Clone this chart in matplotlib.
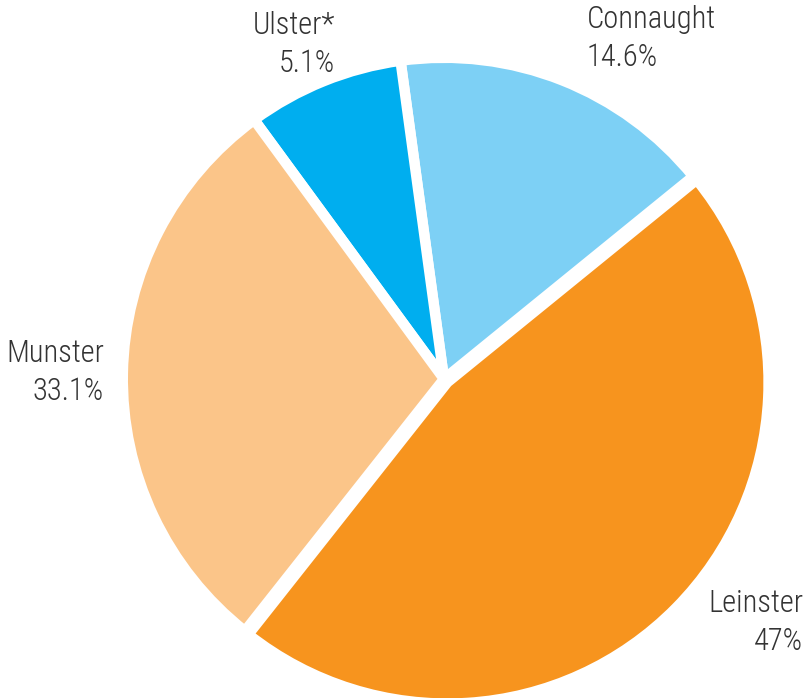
import matplotlib
matplotlib.use("Agg")
import matplotlib.pyplot as plt

regions = ["Connaught", "Ulster*", "Munster", "Leinster"]
pct_labels = ["14.6%", "5.1%", "33.1%", "47%"]
# slice sizes as drawn in the picture (share of the circle)
sizes = [16.3, 7.9, 29.3, 46.5]
colors = ["#7DD0F5", "#00AEEF", "#FBC589", "#F7941E"]
explode = [0, 0, 0, 0.015]

W, H = 804, 698
cx, cy, r = 444, 379, 316
lw = 7.5

plt.rcParams['font.family'] = ['Roboto Condensed', 'DejaVu Sans']

fig = plt.figure(figsize=(W / 100, H / 100), dpi=100)
ax = fig.add_axes([0, 0, 1, 1])
ax.pie(sizes, colors=colors, startangle=39.1, counterclock=True,
       explode=explode, radius=1 + lw * 100 / 72 / 2 / r,
       wedgeprops=dict(edgecolor="white", linewidth=lw))
ax.set_xlim(-cx / r, (W - cx) / r)
ax.set_ylim(-(H - cy) / r, cy / r)
ax.set_aspect("equal")
ax.axis("off")

# label anchors in pixels: (x, y of first line, ha)
label_pos = [(587, 20, "left"), (335, 25, "right"), (104, 353, "right"), (803, 604, "right")]
for name, pct, (x, y, ha) in zip(regions, pct_labels, label_pos):
    fig.text(x / W, 1 - y / H, name, ha=ha, va="center", fontsize=22,
             fontweight="light", color="#333333")
    fig.text(x / W, 1 - (y + 38) / H, pct, ha=ha, va="center", fontsize=22,
             fontweight="light", color="#333333")

fig.savefig("out.png", dpi=100)
